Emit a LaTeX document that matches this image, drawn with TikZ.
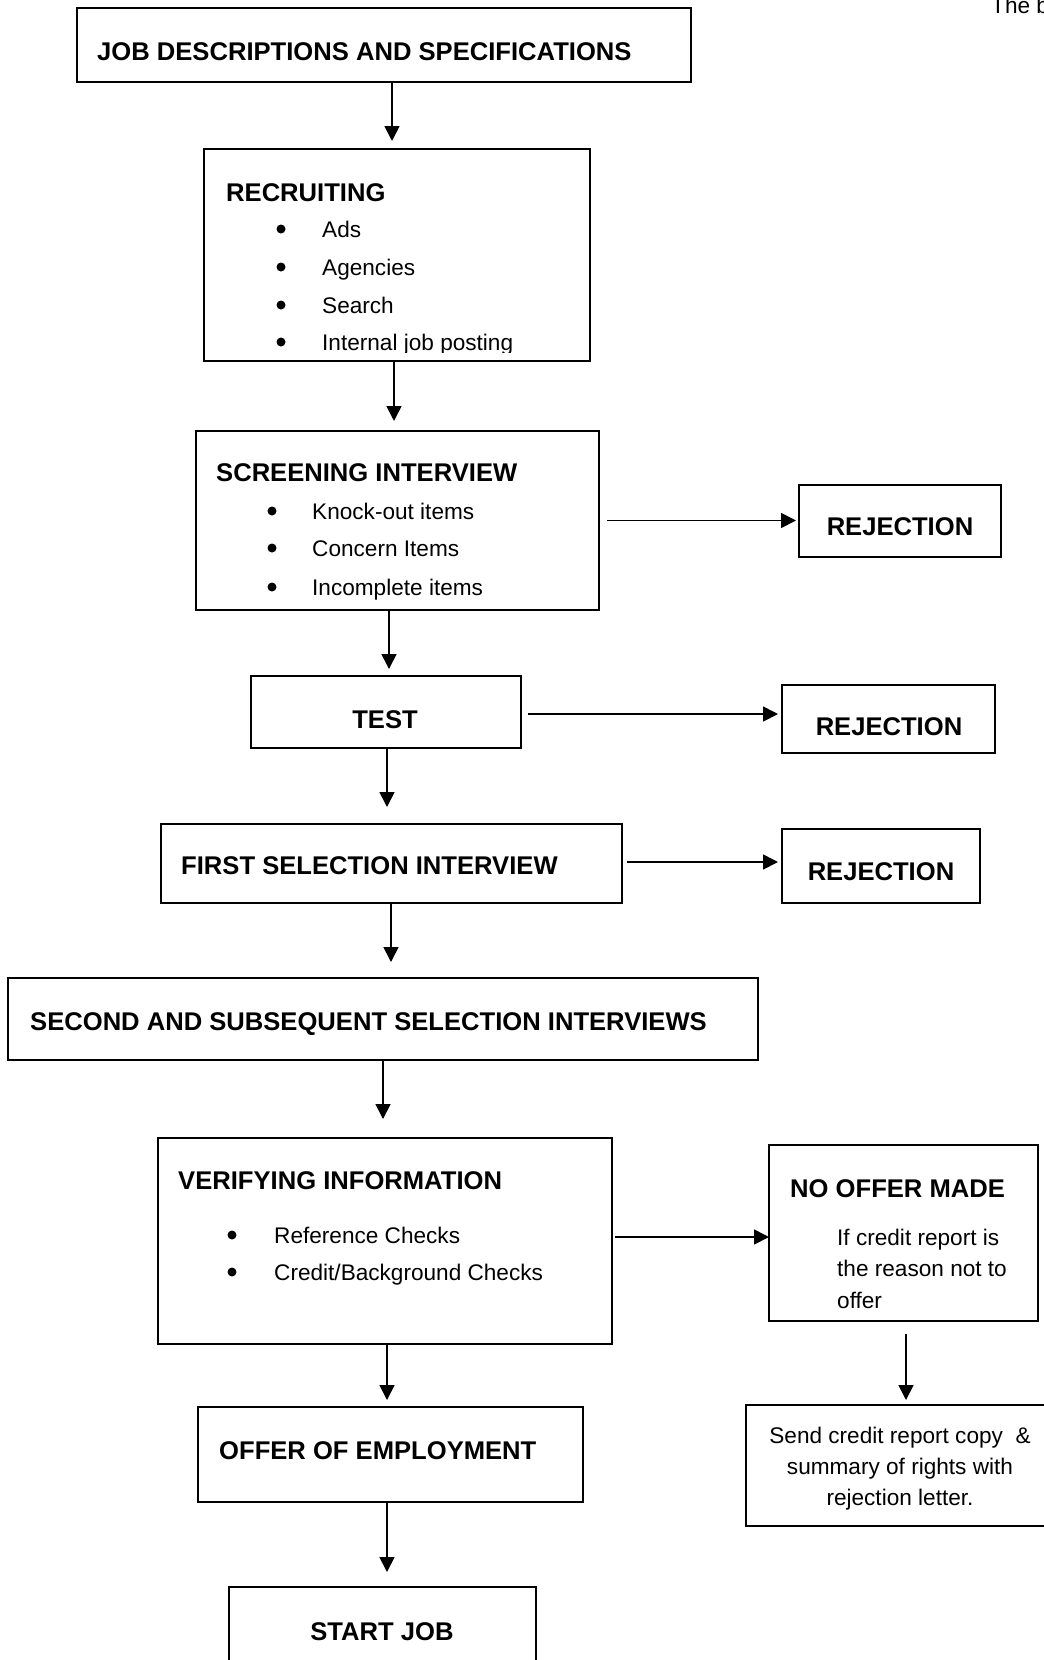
\documentclass[tikz,border=0pt]{standalone}
\usepackage{fontspec}
\setmainfont{Liberation Sans}
\usetikzlibrary{arrows.meta,calc}
\begin{document}
\begin{tikzpicture}[x=1pt,y=-1pt,
  box/.style={draw, line width=1.8pt, anchor=north west, inner sep=0pt, outer sep=0pt},
  ttl/.style={font=\fontsize{25.6}{30}\selectfont\bfseries, inner sep=0pt, anchor=base west},
  ttlc/.style={font=\fontsize{25.6}{30}\selectfont\bfseries, inner sep=0pt, anchor=base},
  txt/.style={font=\fontsize{22.6}{27}\selectfont, inner sep=0pt, anchor=base west},
  txtc/.style={font=\fontsize{22.6}{27}\selectfont, inner sep=0pt, anchor=base},
  arr/.style={line width=1.7pt, -{Triangle[length=15pt,width=15pt]}},
  bul/.style={circle, fill, inner sep=0pt, minimum size=9pt}
]
\useasboundingbox (0,0) rectangle (1044,1660);
\clip (0,0) rectangle (1044,1660);

% corner text
\node[txt] (corner) at (991,13) {The b};

% boxes
\node[box, minimum width=614pt, minimum height=74pt] (b1) at (77,8) {};
\node[box, minimum width=386pt, minimum height=212pt] (b2) at (204,149) {};
\node[box, minimum width=403pt, minimum height=179pt] (b3) at (196,431) {};
\node[box, minimum width=202pt, minimum height=72pt] (rej1) at (799,485) {};
\node[box, minimum width=270pt, minimum height=72pt] (test) at (251,676) {};
\node[box, minimum width=213pt, minimum height=68pt] (rej2) at (782,685) {};
\node[box, minimum width=461pt, minimum height=79pt] (first) at (161,824) {};
\node[box, minimum width=198pt, minimum height=74pt] (rej3) at (782,829) {};
\node[box, minimum width=750pt, minimum height=82pt] (second) at (8,978) {};
\node[box, minimum width=454pt, minimum height=206pt] (verify) at (158,1138) {};
\node[box, minimum width=269pt, minimum height=176pt] (nooffer) at (769,1145) {};
\node[box, minimum width=314pt, minimum height=121pt] (send) at (746,1405) {};
\node[box, minimum width=385pt, minimum height=95pt] (offer) at (198,1407) {};
\node[box, minimum width=307pt, minimum height=100pt] (start) at (229,1587) {};

% texts
\node[ttl] (t1) at (97,60) {JOB DESCRIPTIONS AND SPECIFICATIONS};

\node[ttl] (t2) at (226,201) {RECRUITING};
\node[bul] (r1b) at (281,229) {};
\node[txt] (r1) at (322,237) {Ads};
\node[bul] (r2b) at (281,267) {};
\node[txt] (r2) at (322,275) {Agencies};
\node[bul] (r3b) at (281,305) {};
\node[txt] (r3) at (322,313) {Search};
\node[bul] (r4b) at (281,342) {};
\begin{scope}
\clip (204,149) rectangle (590,352);
\node[txt] (r4) at (322,350) {Internal job posting};
\end{scope}

\node[ttl] (t3) at (216,481) {SCREENING INTERVIEW};
\node[bul] (s1b) at (272,511) {};
\node[txt] (s1) at (312,519) {Knock-out items};
\node[bul] (s2b) at (272,548) {};
\node[txt] (s2) at (312,556) {Concern Items};
\node[bul] (s3b) at (272,587) {};
\node[txt] (s3) at (312,595) {Incomplete items};

\node[ttlc] (tr1) at (900,535) {REJECTION};
\node[ttlc] (tt) at (385,728) {TEST};
\node[ttlc] (tr2) at (889,735) {REJECTION};
\node[ttl] (tf) at (181,874) {FIRST SELECTION INTERVIEW};
\node[ttlc] (tr3) at (881,880) {REJECTION};
\node[ttl] (ts) at (30,1030) {SECOND AND SUBSEQUENT SELECTION INTERVIEWS};

\node[ttl] (tv) at (178,1189) {VERIFYING INFORMATION};
\node[bul] (v1b) at (232,1235) {};
\node[txt] (v1) at (274,1243) {Reference Checks};
\node[bul] (v2b) at (232,1272) {};
\node[txt] (v2) at (274,1280) {Credit/Background Checks};

\node[ttl] (tn) at (790,1197) {NO OFFER MADE};
\node[txt] (n1) at (837,1245) {If credit report is};
\node[txt] (n2) at (837,1276) {the reason not to};
\node[txt] (n3) at (837,1308) {offer};

\node[txtc] (se1) at (900,1443) {Send credit report copy \ \&};
\node[txtc] (se2) at (900,1474) {summary of rights with};
\node[txtc] (se3) at (900,1505) {rejection letter.};

\node[ttl] (to) at (219,1459) {OFFER OF EMPLOYMENT};
\node[ttlc] (tsj) at (382,1640) {START JOB};

% vertical connectors
\draw[arr] ([xshift=8pt]b1.south) -- ([xshift=-5pt,yshift=8pt]b2.north);
\draw[arr] ([xshift=-3pt]b2.south) -- ([xshift=-3.5pt,yshift=10pt]b3.north);
\draw[arr] ([xshift=-8.5pt]b3.south) -- ([xshift=3pt,yshift=7pt]test.north);
\draw[arr] ([xshift=1pt]test.south) -- ([xshift=-4.5pt,yshift=17pt]first.north);
\draw[arr] ([xshift=-0.5pt]first.south) -- ([xshift=8pt,yshift=16pt]second.north);
\draw[arr] (second.south) -- ([xshift=-2pt,yshift=19pt]verify.north);
\draw[arr] ([xshift=2pt]verify.south) -- ([xshift=-3.5pt,yshift=7pt]offer.north);
\draw[arr] ([xshift=-3.5pt]offer.south) -- ([xshift=4.5pt,yshift=15pt]start.north);
\draw[arr] ([xshift=2.5pt,yshift=-13pt]nooffer.south) -- ([xshift=3pt,yshift=5pt]send.north);

% horizontal connectors
\coordinate (h1) at ([xshift=8pt]b3.east);
\draw[arr, shorten >=3pt] (h1) -- (h1 -| rej1.west);
\coordinate (h2) at ([xshift=7pt,yshift=-2pt]test.east);
\draw[arr, shorten >=4pt] (h2) -- (h2 -| rej2.west);
\coordinate (h3) at ([xshift=5pt,yshift=1.5pt]first.east);
\draw[arr, shorten >=4pt] (h3) -- (h3 -| rej3.west);
\coordinate (h4) at ([xshift=3pt,yshift=4pt]verify.east);
\draw[arr] (h4) -- (h4 -| nooffer.west);
\end{tikzpicture}
\end{document}
